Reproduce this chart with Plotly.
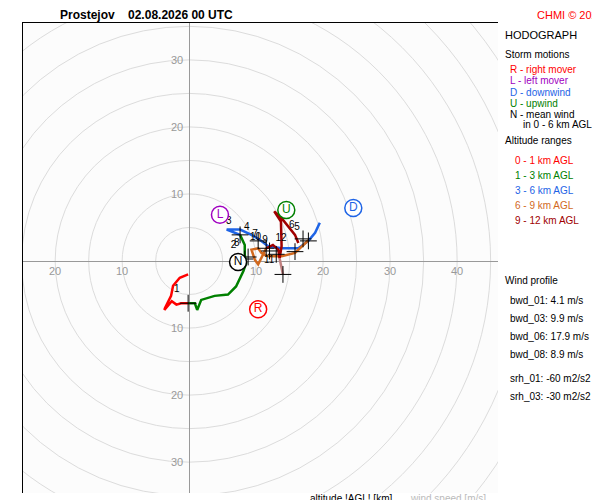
import plotly.graph_objects as go

# hodograph segments (u, v) in m/s
red_u = [-0.15, -1.4, -2.4, -2.7, -3.6, -3.7, -2.6, -1.9, -1.2, -0.15]
red_v = [-2.0, -2.5, -3.7, -5.2, -7.0, -7.3, -6.0, -6.5, -6.3, -6.3]
green_u = [-0.15, 0.85, 1.2, 1.8, 3.8, 5.8, 7.0, 8.1, 8.5, 8.3, 8.3, 7.6]
green_v = [-6.3, -6.3, -7.3, -5.8, -5.2, -5.0, -3.8, -1.5, -0.3, 0.95, 2.4, 3.9]
blue_u = [7.6, 5.6, 7.6, 9.3, 10.5, 11.8, 13.8, 16.3, 17.8, 18.8, 19.5]
blue_v = [3.9, 4.7, 4.7, 3.9, 3.2, 2.2, 1.9, 1.9, 3.0, 4.2, 5.7]
orange_u = [17.8, 16.5, 15.8, 13.8, 11.8, 10.8, 10.3, 9.3, 9.8, 10.3, 11.5]
orange_v = [3.1, 1.9, 1.2, 0.7, 0.7, 1.2, 1.9, 1.7, 0.2, -0.5, 1.9]
dred_u = [11.5, 12.5, 13.3, 13.5, 13.8, 13.7, 12.7, 13.8, 15.8, 16.3]
dred_v = [1.9, 2.4, 1.7, 0.4, 2.2, 5.9, 7.4, 6.4, 3.9, 2.7]
tail_u = [13.5, 13.8, 14.0]
tail_v = [0.4, -1.0, -2.0]

lvl_labels = ["1", "2", "3", "4", "5", "6", "7", "8", "9", "10", "11", "12"]
lvl_u = [-0.15, 8.3, 7.6, 10.3, 17.8, 17.0, 11.5, 8.8, 13.0, 12.0, 14.0, 15.8]
lvl_v = [-6.3, 0.3, 3.9, 3.0, 3.0, 3.3, 1.9, 0.6, 1.0, 1.5, -2.0, 1.4]

storm_labels = ["R", "L", "U", "D", "N"]
storm_u = [10.3, 4.6, 14.5, 24.5, 7.3]
storm_v = [-7.2, 6.9, 7.6, 7.9, -0.15]
storm_cols = ["#ff0000", "#a000c0", "#008000", "#1e64e6", "#000000"]

rings = [5, 10, 15, 20, 25, 30, 35, 40, 45, 50, 55, 60]
ticks = [10, 20, 30, 40]

fig = go.Figure()
for r in rings:
    fig.add_shape(type="circle", x0=-r, y0=-r, x1=r, y1=r,
                  line=dict(color="#dcdcdc", width=1), layer="below")
segs = [(red_u, red_v, "#ff0000"), (green_u, green_v, "#008000"),
        (blue_u, blue_v, "#1e64e6"), (orange_u, orange_v, "#d2691e"),
        (dred_u, dred_v, "#a00000"), (tail_u, tail_v, "#c08080")]
for u, v, c in segs:
    fig.add_trace(go.Scatter(x=u, y=v, mode="lines", line=dict(color=c, width=2.5),
                             showlegend=False, hoverinfo="skip"))
fig.add_trace(go.Scatter(x=lvl_u, y=lvl_v, mode="markers+text", text=lvl_labels,
                         textposition="top left", textfont=dict(size=10, color="#000"),
                         marker=dict(symbol="cross-thin", size=12, line=dict(color="#000", width=1)),
                         showlegend=False))
fig.add_trace(go.Scatter(x=storm_u, y=storm_v, mode="markers+text", text=storm_labels,
                         textposition="middle center",
                         textfont=dict(size=12, color=storm_cols),
                         marker=dict(symbol="circle", size=17, color="white",
                                     line=dict(color=storm_cols, width=1.5)),
                         showlegend=False))
for t in ticks:
    for s in (1, -1):
        fig.add_annotation(x=s * t, y=-1.5, text=str(t), showarrow=False,
                           font=dict(size=11, color="#999"))
        fig.add_annotation(x=-1.8, y=s * t, text=str(t), showarrow=False,
                           font=dict(size=11, color="#999"))

fig.update_xaxes(range=[-24.8, 46.1], showgrid=False, zeroline=True, zerolinecolor="#999",
                 zerolinewidth=1, showticklabels=False, ticks="", showline=True,
                 linecolor="#000", side="top")
fig.update_yaxes(range=[-34.6, 35.5], showgrid=False, zeroline=True, zerolinecolor="#999",
                 zerolinewidth=1, showticklabels=False, ticks="", showline=True,
                 linecolor="#000")


def px(x, y):
    return (x - 15) / 475, (485 - y) / 470


def note(x, y, text, color="#000", size=10, xa="left"):
    a, b = px(x, y)
    fig.add_annotation(x=a, y=b, xref="paper", yref="paper", text=text, showarrow=False,
                       xanchor=xa, yanchor="middle", font=dict(size=size, color=color))


note(50, 7, "<b>Prostejov    02.08.2026 00 UTC</b>", size=12)
note(598, 7, "CHMI © 2026", "#ff0000", 11, "right")
note(495, 27, "HODOGRAPH", size=11)
note(495, 47, "Storm motions")
note(500, 62, "R - right mover", "#ff0000")
note(500, 73, "L - left mover", "#a000c0")
note(500, 84, "D - downwind", "#1e64e6")
note(500, 95, "U - upwind", "#008000")
note(500, 106, "N - mean wind")
note(513, 117, "in 0 - 6 km AGL")
note(495, 132, "Altitude ranges")
note(505, 152, "0 - 1 km AGL", "#ff0000")
note(505, 167, "1 - 3 km AGL", "#008000")
note(505, 182, "3 - 6 km AGL", "#1e64e6")
note(505, 197, "6 - 9 km AGL", "#d2691e")
note(505, 212, "9 - 12 km AGL", "#a00000")
note(495, 272, "Wind profile")
note(500, 292, "bwd_01: 4.1 m/s")
note(500, 310, "bwd_03: 9.9 m/s")
note(500, 328, "bwd_06: 17.9 m/s")
note(500, 346, "bwd_08: 8.9 m/s")
note(500, 370, "srh_01: -60 m2/s2")
note(500, 388, "srh_03: -30 m2/s2")
note(300, 491, "altitude !AGL! [km]")
note(400, 491, "wind speed [m/s]", "#bbbbbb")

fig.update_layout(width=600, height=500,
                  margin=dict(l=15, r=110, t=15, b=15, autoexpand=False),
                  plot_bgcolor="#fcfcfc", paper_bgcolor="#ffffff",
                  font=dict(family="Liberation Sans, Arial"))
fig.write_html("out.html")
